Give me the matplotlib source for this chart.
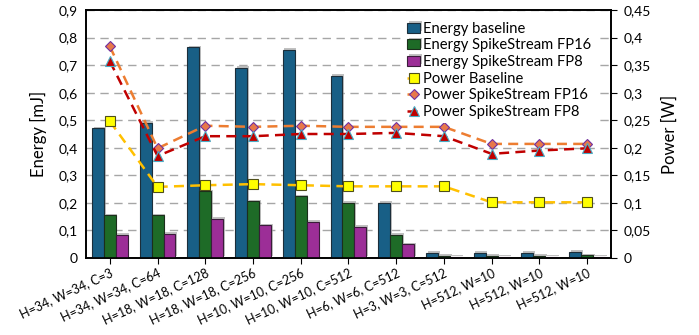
import numpy as np
import matplotlib
matplotlib.use("Agg")
import matplotlib.pyplot as plt
import matplotlib.patheffects as pe
from matplotlib.ticker import FuncFormatter, MultipleLocator

plt.rcParams['font.family'] = ['Lato', 'DejaVu Sans']

# Data
labels = ["H=34, W=34, C=3", "H=34, W=34, C=64", "H=18, W=18, C=128",
          "H=18, W=18, C=256", "H=10, W=10, C=256", "H=10, W=10, C=512",
          "H=6, W=6, C=512", "H=3, W=3, C=512", "H=512, W=10",
          "H=512, W=10", "H=512, W=10"]

energy_baseline = [0.47, 0.49, 0.765, 0.69, 0.755, 0.66, 0.20, 0.018, 0.018, 0.018, 0.022]
energy_fp16 = [0.155, 0.155, 0.242, 0.205, 0.224, 0.201, 0.085, 0.007, 0.007, 0.007, 0.010]
energy_fp8 = [0.083, 0.088, 0.143, 0.119, 0.130, 0.113, 0.049, 0.003, 0.003, 0.003, 0.004]

power_baseline = [0.248, 0.129, 0.132, 0.134, 0.132, 0.130, 0.130, 0.130, 0.101, 0.101, 0.101]
power_fp16 = [0.384, 0.199, 0.240, 0.238, 0.240, 0.238, 0.238, 0.238, 0.207, 0.207, 0.207]
power_fp8 = [0.357, 0.185, 0.221, 0.221, 0.225, 0.225, 0.227, 0.221, 0.189, 0.195, 0.199]

x = np.arange(len(labels))
w = 0.25

fig = plt.figure(figsize=(6.99, 3.35), dpi=100)
ax = fig.add_axes([0.123, 0.230, 0.751, 0.740])
ax2 = ax.twinx()

shadow = [pe.SimplePatchShadow(offset=(1.2, 1.2), shadow_rgbFace='#999999', alpha=0.6), pe.Normal()]

b1 = ax.bar(x - w, energy_baseline, w, color='#185f86', edgecolor='#1c2e3a', linewidth=0.8,
            label='Energy baseline', zorder=3)
b2 = ax.bar(x, energy_fp16, w, color='#1e6b27', edgecolor='#1c2e1c', linewidth=0.8,
            label='Energy SpikeStream FP16', zorder=3)
b3 = ax.bar(x + w, energy_fp8, w, color='#9c2e97', edgecolor='#3a1c3a', linewidth=0.8,
            label='Energy SpikeStream FP8', zorder=3)
for bars in (b1, b2, b3):
    for p in bars:
        p.set_path_effects(shadow)

dash = (0, (4, 2.5))
l1, = ax2.plot(x, power_baseline, linestyle=dash, color='#ffc000', linewidth=1.8,
               marker='s', markersize=7.5, markerfacecolor='#ffff00', markeredgecolor='#4f4f1a',
               markeredgewidth=0.8, label='Power Baseline', zorder=4)
l2, = ax2.plot(x, power_fp16, linestyle=dash, color='#ed7d31', linewidth=1.8,
               marker='D', markersize=5.5, markerfacecolor='#e8784a', markeredgecolor='#7030a0',
               markeredgewidth=0.8, label='Power SpikeStream FP16', zorder=4)
l3, = ax2.plot(x, power_fp8, linestyle=dash, color='#c00000', linewidth=1.8,
               marker='^', markersize=6.5, markerfacecolor='#c00000', markeredgecolor='#4bacc6',
               markeredgewidth=0.8, label='Power SpikeStream FP8', zorder=4)

ax.set_ylim(0, 0.9)
ax2.set_ylim(0, 0.45)
ax.set_xlim(-0.5, len(labels) - 0.5)
ax.yaxis.set_major_locator(MultipleLocator(0.1))
ax2.yaxis.set_major_locator(MultipleLocator(0.05))

comma = FuncFormatter(lambda v, p: ('%g' % round(v, 3)).replace('.', ','))
ax.yaxis.set_major_formatter(comma)
ax2.yaxis.set_major_formatter(comma)

ax.grid(axis='y', color='#a6a6a6', linestyle=(0, (6, 4)), linewidth=1.0, zorder=0)
ax.set_axisbelow(True)

ax.set_xticks(x)
ax.set_xticklabels(labels, rotation=25, ha='right', rotation_mode='anchor', fontsize=9)
ax.tick_params(axis='x', length=4, direction='out', pad=2)
ax.tick_params(axis='y', length=0, labelsize=10, pad=6)
ax2.tick_params(axis='y', length=4, direction='out', labelsize=10, pad=5)

for a in (ax, ax2):
    for s in a.spines.values():
        s.set_linewidth(1.2)
        s.set_color('black')

ax.set_ylabel('Energy [mJ]', fontsize=12, labelpad=8)
ax2.set_ylabel('Power [W]', fontsize=12, labelpad=8)

handles = [b1, b2, b3, l1, l2, l3]
leg = ax2.legend(handles=handles, labels=[h.get_label() for h in handles],
                 loc='upper right', bbox_to_anchor=(0.985, 1.0), frameon=True,
                 fancybox=False, edgecolor='none', facecolor='white', framealpha=1,
                 fontsize=10.6, handlelength=0.9, handletextpad=0.2, labelspacing=0.18,
                 borderpad=0.3)
leg.set_zorder(10)

fig.savefig('out.png', dpi=100)
